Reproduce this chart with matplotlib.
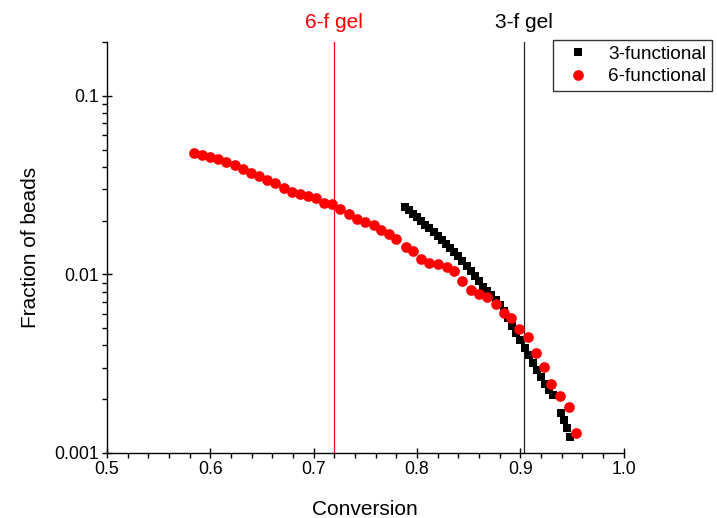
import matplotlib.pyplot as plt
from matplotlib.ticker import MultipleLocator, LogLocator, NullFormatter, FixedLocator
import numpy as np

plt.rcParams['font.family'] = ['Liberation Sans', 'DejaVu Sans']

# 3-functional beads
conv3 = [0.788, 0.792, 0.796, 0.800, 0.804, 0.808, 0.812, 0.816, 0.820, 0.824,
         0.828, 0.832, 0.836, 0.840, 0.844, 0.848, 0.852, 0.856, 0.860, 0.864,
         0.868, 0.872, 0.876, 0.880, 0.884, 0.888, 0.892, 0.896, 0.900, 0.904,
         0.908, 0.912, 0.916, 0.920, 0.924, 0.928, 0.932, 0.939, 0.942, 0.945,
         0.948]
frac3 = [0.0239, 0.0228, 0.0218, 0.0209, 0.0199, 0.0190, 0.0181, 0.0173, 0.0164, 0.0156,
         0.0148, 0.0141, 0.0134, 0.0126, 0.0119, 0.0112, 0.0105, 0.00981, 0.00920, 0.00851,
         0.00808, 0.00763, 0.00720, 0.00675, 0.00624, 0.00571, 0.00515, 0.00470, 0.00430, 0.00388,
         0.00354, 0.00319, 0.00292, 0.00267, 0.00244, 0.00225, 0.00211, 0.00168, 0.00153, 0.00138,
         0.00123]

# 6-functional beads
conv6 = [0.584, 0.592, 0.600, 0.608, 0.615, 0.624, 0.632, 0.639, 0.647, 0.655,
         0.663, 0.671, 0.679, 0.687, 0.695, 0.702, 0.710, 0.718, 0.726, 0.734,
         0.742, 0.750, 0.758, 0.765, 0.773, 0.780, 0.789, 0.796, 0.804, 0.812,
         0.820, 0.829, 0.836, 0.844, 0.852, 0.860, 0.868, 0.876, 0.884, 0.891,
         0.899, 0.907, 0.915, 0.923, 0.930, 0.938, 0.947, 0.954]
frac6 = [0.0481, 0.0467, 0.0453, 0.0440, 0.0425, 0.0411, 0.0390, 0.0370, 0.0356, 0.0338,
         0.0324, 0.0305, 0.0289, 0.0282, 0.0275, 0.0266, 0.0251, 0.0247, 0.0232, 0.0218,
         0.0204, 0.0196, 0.0189, 0.0178, 0.0169, 0.0158, 0.0143, 0.0136, 0.0122, 0.0116,
         0.0115, 0.0110, 0.0104, 0.00923, 0.00819, 0.00775, 0.00751, 0.00681, 0.00606, 0.00568,
         0.00495, 0.00445, 0.00365, 0.00302, 0.00243, 0.00208, 0.00182, 0.00130]

# gel points
gel6 = 0.720
gel3 = 0.903

fig = plt.figure(figsize=(7.17, 5.18), dpi=100)
ax = fig.add_axes([0.149, 0.1255, 0.721, 0.7935])

ax.axvline(gel6, color='red', lw=0.9, zorder=1)
ax.axvline(gel3, color='#222222', lw=0.9, zorder=1)

ax.plot(conv3, frac3, 's', color='black', ms=6.2, mew=0, label='3-functional', zorder=3)
ax.plot(conv6, frac6, 'o', color='red', ms=7.7, mew=0, label='6-functional', zorder=4)

ax.set_yscale('log')
ax.set_xlim(0.5, 1.0)
ax.set_ylim(0.001, 0.2)

ax.xaxis.set_minor_locator(MultipleLocator(0.02))
ax.set_xticks([0.5, 0.6, 0.7, 0.8, 0.9, 1.0])
ax.set_xticklabels(['0.5', '0.6', '0.7', '0.8', '0.9', '1.0'])
ax.yaxis.set_major_locator(FixedLocator([0.001, 0.01, 0.1]))
ax.set_yticklabels(['0.001', '0.01', '0.1'])
ax.yaxis.set_minor_locator(LogLocator(base=10, subs=np.arange(2, 10)))
ax.yaxis.set_minor_formatter(NullFormatter())

ax.tick_params(which='major', direction='inout', length=7, width=1, labelsize=12.7, pad=2)
ax.tick_params(which='minor', direction='out', length=3.5, width=1)

for s in ['top', 'right']:
    ax.spines[s].set_visible(False)
for s in ['left', 'bottom']:
    ax.spines[s].set_linewidth(1)

ax.set_xlabel('Conversion', fontsize=15, labelpad=16)
ax.set_ylabel('Fraction of beads', fontsize=15, labelpad=10.5)

ax.text(gel6, 1.025, '6-f gel', color='red', fontsize=15, ha='center', va='bottom',
        transform=ax.get_xaxis_transform())
ax.text(gel3, 1.025, '3-f gel', color='black', fontsize=15, ha='center', va='bottom',
        transform=ax.get_xaxis_transform())

leg = fig.legend(loc='upper right', bbox_to_anchor=(1.006, 0.941), fontsize=13.7,
                 frameon=True, fancybox=False, edgecolor='black', handletextpad=0.6,
                 borderpad=0.3, labelspacing=0.25, handlelength=2.0)
leg.get_frame().set_linewidth(1)

fig.savefig('out.png', dpi=100)
